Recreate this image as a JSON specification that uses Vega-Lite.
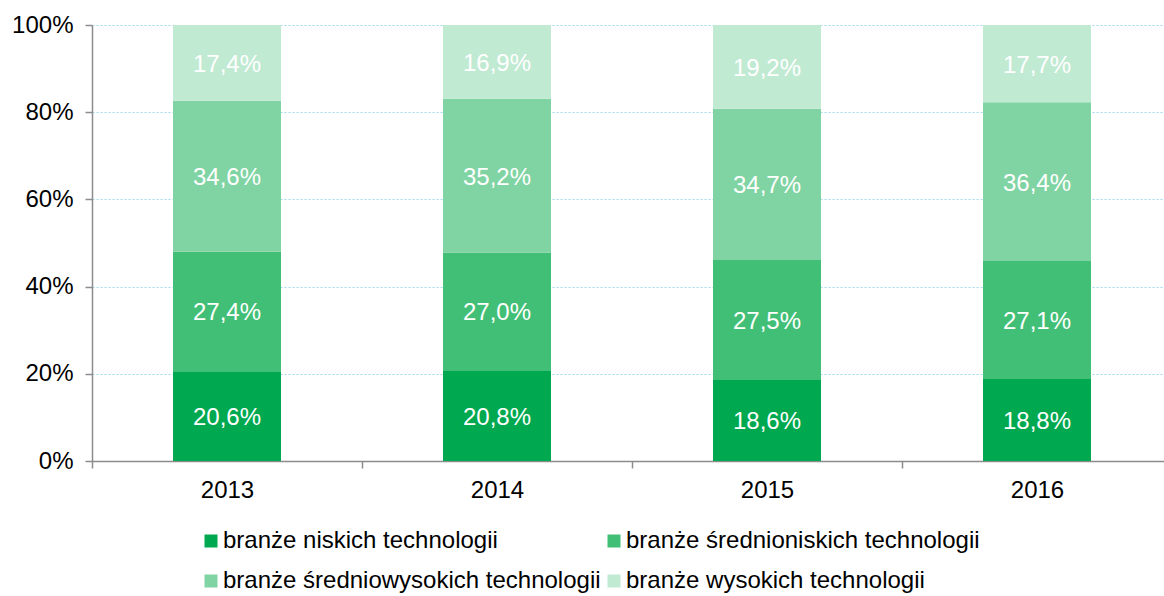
{
  "$schema": "https://vega.github.io/schema/vega-lite/v6.json",
  "autosize": {"type": "none"},
  "padding": {"left": 92, "top": 25, "right": 0, "bottom": 135},
  "width": 1072,
  "height": 436,
  "data": {
    "values": [
      {"year": "2013", "cat": "branże niskich technologii", "ord": 1, "share": 20.6},
      {"year": "2013", "cat": "branże średnioniskich technologii", "ord": 2, "share": 27.4},
      {"year": "2013", "cat": "branże średniowysokich technologii", "ord": 3, "share": 34.6},
      {"year": "2013", "cat": "branże wysokich technologii", "ord": 4, "share": 17.4},
      {"year": "2014", "cat": "branże niskich technologii", "ord": 1, "share": 20.8},
      {"year": "2014", "cat": "branże średnioniskich technologii", "ord": 2, "share": 27.0},
      {"year": "2014", "cat": "branże średniowysokich technologii", "ord": 3, "share": 35.2},
      {"year": "2014", "cat": "branże wysokich technologii", "ord": 4, "share": 16.9},
      {"year": "2015", "cat": "branże niskich technologii", "ord": 1, "share": 18.6},
      {"year": "2015", "cat": "branże średnioniskich technologii", "ord": 2, "share": 27.5},
      {"year": "2015", "cat": "branże średniowysokich technologii", "ord": 3, "share": 34.7},
      {"year": "2015", "cat": "branże wysokich technologii", "ord": 4, "share": 19.2},
      {"year": "2016", "cat": "branże niskich technologii", "ord": 1, "share": 18.8},
      {"year": "2016", "cat": "branże średnioniskich technologii", "ord": 2, "share": 27.1},
      {"year": "2016", "cat": "branże średniowysokich technologii", "ord": 3, "share": 36.4},
      {"year": "2016", "cat": "branże wysokich technologii", "ord": 4, "share": 17.7}
    ]
  },
  "transform": [
    {"stack": "share", "groupby": ["year"], "sort": [{"field": "ord", "order": "ascending"}], "offset": "normalize", "as": ["y0", "y1"]},
    {"calculate": "(datum.y0 + datum.y1) / 2", "as": "ymid"},
    {"calculate": "replace(format(datum.share, '.1f'), '.', ',') + '%'", "as": "label"}
  ],
  "encoding": {
    "x": {
      "field": "year",
      "type": "nominal",
      "title": null,
      "scale": {"range": [0, 1080], "paddingInner": 0.6, "paddingOuter": 0.3},
      "axis": {
        "labelAngle": 0,
        "labelFontSize": 24,
        "labelColor": "#000000",
        "labelPadding": 10,
        "domainColor": "#8c8c8c",
        "domainWidth": 1.5,
        "tickColor": "#8c8c8c",
        "tickWidth": 1.5,
        "tickSize": 7,
        "tickOffset": -135,
        "labelOffset": 135,
        "grid": false
      }
    }
  },
  "layer": [
    {
      "mark": {"type": "bar"},
      "encoding": {
        "y": {
          "field": "y0",
          "type": "quantitative",
          "title": null,
          "scale": {"domain": [0, 1], "nice": false},
          "axis": {
            "values": [0, 0.2, 0.4, 0.6, 0.8, 1],
            "format": ".0%",
            "labelFontSize": 24,
            "labelColor": "#000000",
            "labelPadding": 12,
            "domainColor": "#8c8c8c",
            "domainWidth": 1.5,
            "tickColor": "#8c8c8c",
            "tickWidth": 1.5,
            "tickSize": 7,
            "grid": true,
            "gridColor": "#9fd9ef",
            "gridDash": [2, 2],
            "gridWidth": 1
          }
        },
        "y2": {"field": "y1"},
        "color": {
          "field": "cat",
          "type": "nominal",
          "title": null,
          "scale": {
            "domain": ["branże niskich technologii", "branże średnioniskich technologii", "branże średniowysokich technologii", "branże wysokich technologii"],
            "range": ["#00a94f", "#42bf76", "#80d4a3", "#c1ead3"]
          },
          "legend": {
            "orient": "none",
            "direction": "horizontal",
            "legendX": 107,
            "legendY": 504,
            "columns": 2,
            "columnPadding": 1,
            "rowPadding": 16,
            "symbolType": "square",
            "symbolSize": 169,
            "symbolStrokeWidth": 0,
            "labelFontSize": 24,
            "labelColor": "#000000",
            "labelOffset": 0,
            "labelLimit": 600
          }
        }
      }
    },
    {
      "mark": {"type": "text", "color": "#ffffff", "fontSize": 24, "baseline": "middle", "align": "center", "dy": 2},
      "encoding": {
        "y": {"field": "ymid", "type": "quantitative"},
        "text": {"field": "label", "type": "nominal"}
      }
    }
  ],
  "config": {
    "font": "Liberation Sans",
    "view": {"stroke": null},
    "axis": {"labelFont": "Liberation Sans"},
    "legend": {"labelFont": "Liberation Sans"}
  }
}
